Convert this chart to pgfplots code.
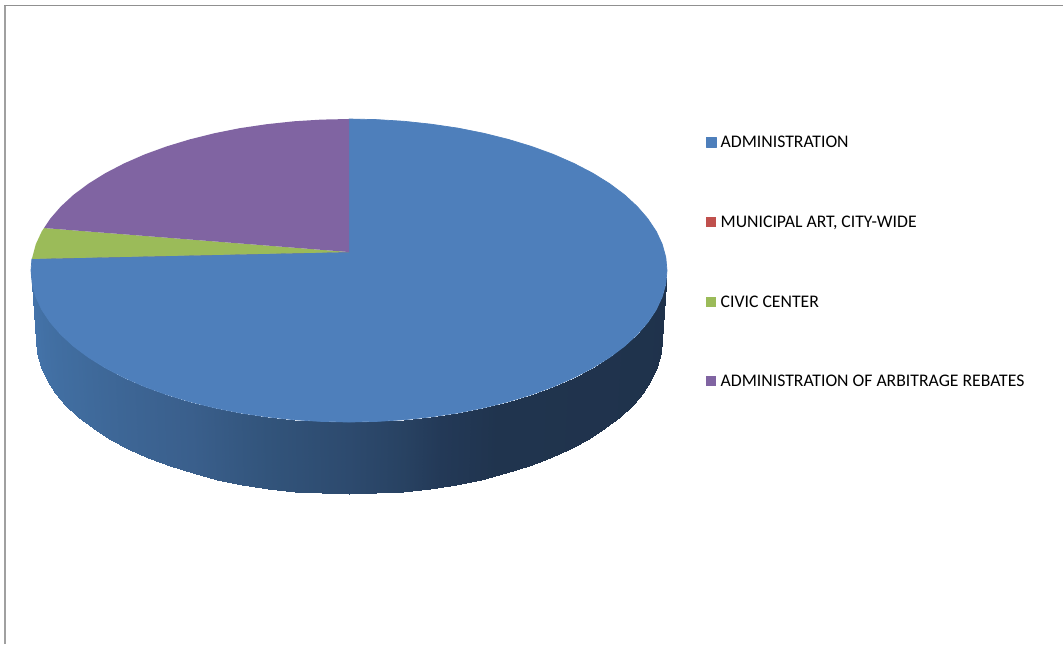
\documentclass[border=0pt]{standalone}
\usepackage{pgfplots}
\pgfplotsset{compat=1.18}
\usepackage{fontspec}
\setmainfont{Carlito}
\definecolor{cblue}{RGB}{78,127,187}
\definecolor{cred}{RGB}{192,80,77}
\definecolor{cgreen}{RGB}{155,187,89}
\definecolor{cpurple}{RGB}{128,100,162}
\definecolor{cframe}{RGB}{160,160,160}
\begin{document}
\begin{tikzpicture}
\begin{axis}[
  view={0}{90},
  width=1063bp, height=644bp, scale only axis,
  xmin=0, xmax=1063, ymin=0, ymax=644, y dir=reverse,
  hide axis, ticks=none, clip=true,
  colormap={side}{rgb255(0)=(69,117,172); rgb255(30)=(64,108,158); rgb255(60)=(58,95,140); rgb255(75)=(50,84,123); rgb255(90)=(45,74,110); rgb255(100)=(40,66,98); rgb255(107)=(35,57,87); rgb255(118)=(32,52,78); rgb255(180)=(31,50,75)},
  point meta min=0, point meta max=180,
  legend cell align=left,
  legend image code/.code={\path[#1] (0bp,0.5bp) rectangle (10bp,10.5bp);},
  legend style={at={(706/1063,1-136/644)}, anchor=north west, draw=none, fill=none, inner sep=0pt, outer sep=0pt,
    row sep=68.3bp, font=\fontsize{17.7bp}{18bp}\selectfont,
    nodes={inner sep=0pt, outer sep=0pt, text depth=0pt, anchor=base west},
    /tikz/every odd column/.style={column sep=4bp}},
]
% page area
\addplot[forget plot, fill=white, draw=none] coordinates {(0,0) (1063,0) (1063,644) (0,644)} -- cycle;
% frame
\addplot[forget plot, cframe, line width=2.2bp] coordinates {(5,644) (5,5.5)};
\addplot[forget plot, cframe!90!black, line width=1.5bp] coordinates {(4,5.5) (1063,5.5)};
% side wall
\addplot3[forget plot, surf, shader=interp, mesh/rows=2, mesh/cols=37, point meta=explicit]
 table[x=x, y=y, z expr=0, meta=c] {
x y c
31 270.5 0
32.2 283.7 5
35.8 296.8 10
41.8 309.7 15
50.2 322.3 20
60.8 334.5 25
73.6 346.3 30
88.5 357.4 35
105.4 367.9 40
124.1 377.6 45
144.6 386.6 50
166.6 394.6 55
190 401.7 60
214.6 407.8 65
240.2 412.9 70
266.7 416.8 75
293.8 419.7 80
321.3 421.4 85
349 422 90
376.7 421.4 95
404.2 419.7 100
431.3 416.8 105
457.8 412.9 110
483.4 407.8 115
508 401.7 120
531.4 394.6 125
553.4 386.6 130
573.9 377.6 135
592.6 367.9 140
609.5 357.4 145
624.4 346.3 150
637.2 334.5 155
647.8 322.3 160
656.2 309.7 165
662.2 296.8 170
665.8 283.7 175
667 270.5 180
36 340 0
37.2 353.4 5
40.7 366.7 10
46.6 379.8 15
54.9 392.7 20
65.3 405.1 25
77.9 417 30
92.6 428.3 35
109.2 439 40
127.6 448.9 45
147.8 458 50
169.5 466.1 55
192.5 473.4 60
216.7 479.6 65
241.9 484.8 70
268 488.7 75
294.7 491.7 80
321.7 493.4 85
349 494 90
376.3 493.4 95
403.3 491.7 100
430 488.7 105
456.1 484.8 110
481.3 479.6 115
505.5 473.4 120
528.5 466.1 125
550.2 458 130
570.4 448.9 135
589 439 140
605.4 428.3 145
620.1 417 150
632.7 405.1 155
643.1 392.7 160
651.4 379.8 165
657.3 366.7 170
660.8 353.4 175
662 340 180
};
% top slices
\addplot[fill=cblue, draw=cblue, line width=0.7bp, line join=round] coordinates {
(349,252) (349,119) (376.7,119.6) (404.2,121.3) (431.3,124.2) (457.8,128.1) (483.4,133.2) (508,139.3) (531.4,146.4) (553.4,154.4) (573.9,163.4) (592.6,173.1) (609.5,183.6) (624.4,194.7) (637.2,206.5) (647.8,218.7) (656.2,231.3) (662.2,244.2) (665.8,257.3) (667,270.5)
(665.8,283.7) (662.2,296.8) (656.2,309.7) (647.8,322.3) (637.2,334.5) (624.4,346.3) (609.5,357.4) (592.6,367.9) (573.9,377.6) (553.4,386.6) (531.4,394.6) (508,401.7) (483.4,407.8) (457.8,412.9) (431.3,416.8) (404.2,419.7) (376.7,421.4) (349,422)
(321.3,421.4) (293.8,419.7) (266.7,416.8) (240.2,412.9) (214.6,407.8) (190,401.7) (166.6,394.6) (144.6,386.6) (124.1,377.6) (105.4,367.9) (88.5,357.4) (73.6,346.3) (60.8,334.5) (50.2,322.3) (41.8,309.7) (35.8,296.8) (32.2,283.7) (31,270.5) (31.9,258.9)
} -- cycle;
\addlegendentry{ADMINISTRATION}
\addplot[fill=cred, draw=none] coordinates {(349,252) (31.9,258.9)} -- cycle;
\addlegendentry{MUNICIPAL ART, CITY-WIDE}
\addplot[fill=cgreen, draw=none] coordinates {(349,252) (31.9,258.9) (35.8,244.2) (41.8,231.3) (44,228)} -- cycle;
\addlegendentry{CIVIC CENTER}
\addplot[fill=cpurple, draw=none] coordinates {(349,252) (44,228) (50.2,218.7) (60.8,206.5) (73.6,194.7) (88.5,183.6) (105.4,173.1) (124.1,163.4) (144.6,154.4) (166.6,146.4) (190,139.3) (214.6,133.2) (240.2,128.1) (266.7,124.2) (293.8,121.3) (321.3,119.6) (349,119)} -- cycle;
\addlegendentry{ADMINISTRATION OF ARBITRAGE REBATES}
\end{axis}
\end{tikzpicture}
\end{document}
